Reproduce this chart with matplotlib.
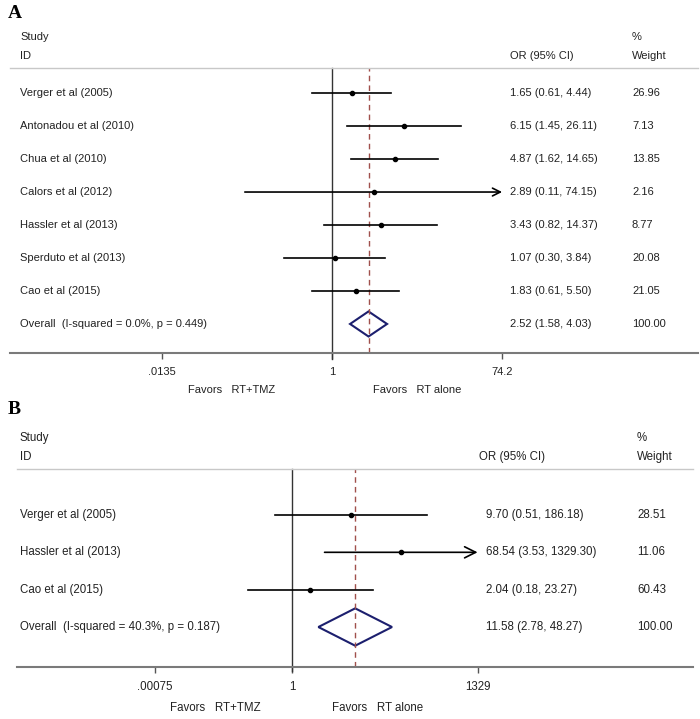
import numpy as np
import matplotlib
matplotlib.use('Agg')
import matplotlib.pyplot as plt
from matplotlib.patches import Polygon
from matplotlib.ticker import NullLocator
from matplotlib.transforms import blended_transform_factory

W, H = 700, 719
plt.rcParams['font.family'] = ['Liberation Sans', 'DejaVu Sans']

# ---- panel A data
studies_a = ["Verger et al (2005)", "Antonadou et al (2010)", "Chua et al (2010)",
             "Calors et al (2012)", "Hassler et al (2013)", "Sperduto et al (2013)",
             "Cao et al (2015)"]
or_a = [1.65, 6.15, 4.87, 2.89, 3.43, 1.07, 1.83]
lo_a = [0.61, 1.45, 1.62, 0.11, 0.82, 0.30, 0.61]
hi_a = [4.44, 26.11, 14.65, 74.15, 14.37, 3.84, 5.50]
wt_a = ["26.96", "7.13", "13.85", "2.16", "8.77", "20.08", "21.05"]
overall_a = [2.52, 1.58, 4.03]
overall_lbl_a = "Overall  (I-squared = 0.0%, p = 0.449)"
ticks_a = [0.0135, 1, 74.2]
tick_lbl_a = [".0135", "1", "74.2"]

# ---- panel B data
studies_b = ["Verger et al (2005)", "Hassler et al (2013)", "Cao et al (2015)"]
or_b = [9.70, 68.54, 2.04]
lo_b = [0.51, 3.53, 0.18]
hi_b = [186.18, 1329.30, 23.27]
wt_b = ["28.51", "11.06", "60.43"]
overall_b = [11.58, 2.78, 48.27]
overall_lbl_b = "Overall  (I-squared = 40.3%, p = 0.187)"
ticks_b = [0.0049, 1, 1329]   # left label sits here in the original
tick_lbl_b = [".00075", "1", "1329"]

fig = plt.figure(figsize=(W / 100, H / 100), dpi=100)
TXT = '#222222'


def px(x):
    return x / W


def py(y):
    return 1 - y / H


def panel(letter, top, bot, left, right, null_px, ppu, ylo, yhi,
          studies, ors, los, his, wts, overall, overall_lbl, ticks, tick_lbls,
          xor, xwt, xorhead, dh, clip, fav, fav_y, letter_y, arrow_ms, fs):
    ax = fig.add_axes([px(left), py(bot), px(right - left), (bot - top) / H])
    ax.set_xscale('log')
    # ppu = pixels per unit of ln(OR)
    ax.set_xlim(np.exp(-(null_px - left) / ppu), np.exp((right - null_px) / ppu))
    ax.set_ylim(ylo, yhi)
    for s in ['left', 'right']:
        ax.spines[s].set_visible(False)
    ax.spines['top'].set_color('#c8c8c8')
    ax.spines['top'].set_linewidth(1.0)
    ax.spines['bottom'].set_color('#7a7a7a')
    ax.spines['bottom'].set_linewidth(1.5)
    ax.set_yticks([])
    ax.xaxis.set_minor_locator(NullLocator())
    ax.set_xticks(ticks)
    ax.set_xticklabels(tick_lbls)
    ax.tick_params(axis='x', length=4, width=1, color='#555555', labelsize=fs,
                   pad=6, labelcolor=TXT)
    ax.set_facecolor('none')

    ax.axvline(1, color='#333333', lw=1.0, ymin=-0.02, ymax=1, clip_on=False)
    ax.axvline(overall[0], color='#a0504c', lw=1.0, ls=(0, (4, 3)))

    tr = blended_transform_factory(fig.transFigure, ax.transData)
    n = len(studies)
    for i in range(n):
        y = i
        ax.text(px(20), y, studies[i], transform=tr, va='center', fontsize=fs, color=TXT)
        txt = "%.2f (%.2f, %.2f)" % (ors[i], los[i], his[i])
        ax.text(px(xor), y, txt, transform=tr, va='center', fontsize=fs, color=TXT)
        ax.text(px(xwt), y, wts[i], transform=tr, va='center', fontsize=fs, color=TXT)
        if his[i] >= 0.99 * clip:
            ax.annotate('', xy=(clip, y), xytext=(los[i], y),
                        arrowprops=dict(arrowstyle='->', lw=1.2, color='black',
                                        mutation_scale=arrow_ms, shrinkA=0, shrinkB=0))
        else:
            ax.plot([los[i], his[i]], [y, y], color='black', lw=1.2)
        ax.plot(ors[i], y, 'o', ms=3, color='black')

    yo = n
    est, lo, hi = overall
    ax.add_patch(Polygon([(lo, yo), (est, yo - dh), (hi, yo), (est, yo + dh)],
                         closed=True, fill=False, edgecolor='#1c1f6e', lw=1.5))
    ax.text(px(20), yo, overall_lbl, transform=tr, va='center', fontsize=fs, color=TXT)
    ax.text(px(xor), yo, "%.2f (%.2f, %.2f)" % (est, lo, hi), transform=tr,
            va='center', fontsize=fs, color=TXT)
    ax.text(px(xwt), yo, "100.00", transform=tr, va='center', fontsize=fs, color=TXT)

    # headers
    fig.text(px(20), py(top - 31), "Study", va='center', fontsize=fs, color=TXT)
    fig.text(px(20), py(top - 12), "ID", va='center', fontsize=fs, color=TXT)
    fig.text(px(xorhead), py(top - 12), "OR (95% CI)", va='center', fontsize=fs, color=TXT)
    fig.text(px(xwt), py(top - 31), "%", va='center', fontsize=fs, color=TXT)
    fig.text(px(xwt), py(top - 12), "Weight", va='center', fontsize=fs, color=TXT)

    fig.text(px(fav[0]), py(fav_y), "Favors   RT+TMZ", ha='center', va='center',
             fontsize=fs, color=TXT)
    fig.text(px(fav[1]), py(fav_y), "Favors   RT alone", ha='center', va='center',
             fontsize=fs, color=TXT)
    fig.text(px(8), py(letter_y), letter, fontsize=14, fontweight='bold',
             family='Liberation Serif', va='center')
    return ax


panel("A", 68, 353, 10, 698, 332, 39.5, 7.88, -0.76,
      studies_a, or_a, lo_a, hi_a, wt_a, overall_a, overall_lbl_a, ticks_a, tick_lbl_a,
      510, 632, 510, 0.38, 74.2, (232, 417), 390, 14, 14, 8)

panel("B", 469, 667, 17, 693, 292, 25.8, 4.07, -1.23,
      studies_b, or_b, lo_b, hi_b, wt_b, overall_b, overall_lbl_b, ticks_b, tick_lbl_b,
      486, 637, 479, 0.5, 1329, (215, 378), 708, 410, 20, 8.3)

fig.savefig('out.png', dpi=100)
